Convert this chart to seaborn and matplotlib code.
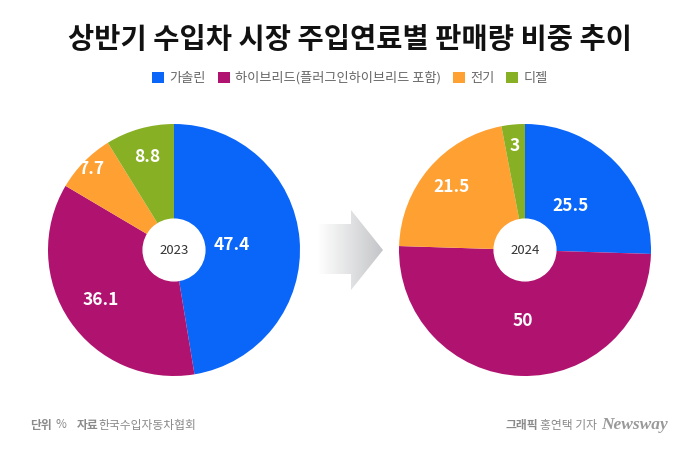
import numpy as np
import matplotlib
matplotlib.use("Agg")
import matplotlib.pyplot as plt
from matplotlib.patches import Patch, Polygon
import seaborn as sns

sns.set_theme(style="white")
plt.rcParams['font.family'] = ['Noto Sans CJK KR', 'DejaVu Sans']

# ---- data ----
categories = ['가솔린', '하이브리드(플러그인하이브리드 포함)', '전기', '디젤']
values_2023 = [47.4, 36.1, 7.7, 8.8]
values_2024 = [25.5, 50, 21.5, 3]
years = ['2023', '2024']
labels_2023 = ['47.4', '36.1', '7.7', '8.8']
labels_2024 = ['25.5', '50', '21.5', '3']

colors = sns.color_palette(['#0a66f8', '#b0126f', '#ffa033', '#88b024'])
label_dist_2023 = [0.46, 0.70, 0.92, 0.77]
label_dist_2024 = [0.50, 0.56, 0.77, 0.83]

fig = plt.figure(figsize=(7, 4.5), dpi=100)
fig.patch.set_facecolor('white')

W, H = 700, 450
R = 126

def draw_pie(cx, cy, vals, labs, dists, year):
    ax = fig.add_axes([(cx - R) / W, (H - cy - R) / H, 2 * R / W, 2 * R / H])
    wedges, _ = ax.pie(vals, colors=colors, startangle=90, counterclock=False,
                       radius=1.0, wedgeprops=dict(linewidth=0))
    total = sum(vals)
    cum = 0
    for v, lab, d in zip(vals, labs, dists):
        mid = 90 - (cum + v / 2) / total * 360
        cum += v
        a = np.deg2rad(mid)
        ax.text(d * np.cos(a), d * np.sin(a), lab, color='white', fontsize=12.5,
                fontweight='bold', ha='center', va='center')
    circ = plt.Circle((0, 0), 0.245, color='white', zorder=5)
    ax.add_patch(circ)
    ax.text(0, 0, year, ha='center', va='center', fontsize=9.5, color='#333333',
            zorder=6)
    ax.set_xlim(-1, 1)
    ax.set_ylim(-1, 1)
    ax.set_aspect('equal')
    ax.axis('off')

draw_pie(174, 250, values_2023, labels_2023, label_dist_2023, years[0])
draw_pie(525, 250, values_2024, labels_2024, label_dist_2024, years[1])

# overlay axes in pixel coords for arrow
ov = fig.add_axes([0, 0, 1, 1], zorder=-1)
ov.set_xlim(0, W)
ov.set_ylim(H, 0)
ov.axis('off')
arrow_pts = [(318, 224), (351, 224), (351, 210), (383, 250), (351, 290), (351, 274), (318, 274)]
poly = Polygon(arrow_pts, closed=True, facecolor='none', edgecolor='none')
ov.add_patch(poly)
grad = np.linspace(0, 1, 256).reshape(1, -1)
cmap = matplotlib.colors.LinearSegmentedColormap.from_list('g', ['#ffffff', '#c4c5c8'])
im = ov.imshow(grad, extent=[318, 383, 290, 210], cmap=cmap, aspect='auto')
im.set_clip_path(poly)

# title
fig.text(0.5, 1 - 40 / H, '상반기 수입차 시장 주입연료별 판매량 비중 추이', ha='center', va='center',
         fontsize=20.5, fontweight='black', color='#111111')

# legend
handles = [Patch(facecolor=c, edgecolor='none') for c in colors]
leg = fig.legend(handles, categories, loc='center', bbox_to_anchor=(0.5, 1 - 78 / H),
                 ncol=4, frameon=False, fontsize=9.5, handlelength=0.9, handleheight=0.9,
                 handletextpad=0.4, columnspacing=0.9, labelcolor='#666666')

# footer
fs = 8.5
gray = '#8a8a8a'
fig.text(30 / W, 1 - 425 / H, '단위', fontsize=fs, fontweight='bold', color=gray, va='center')
fig.text(55 / W, 1 - 425 / H, '%', fontsize=fs, color=gray, va='center')
fig.text(77 / W, 1 - 425 / H, '자료', fontsize=fs, fontweight='bold', color=gray, va='center')
fig.text(98 / W, 1 - 425 / H, '한국수입자동차협회', fontsize=fs, color=gray, va='center')

fig.text(506 / W, 1 - 425 / H, '그래픽', fontsize=fs, fontweight='bold', color=gray, va='center')
fig.text(540 / W, 1 - 425 / H, '홍연택 기자', fontsize=fs, color=gray, va='center')
fig.text(668 / W, 1 - 425 / H, 'Newsway', fontsize=12.5, color='#999999', va='center', ha='right',
         fontstyle='italic', fontweight='bold', family=['Liberation Serif', 'DejaVu Serif'])

fig.savefig('out.png', dpi=100, facecolor='white')
